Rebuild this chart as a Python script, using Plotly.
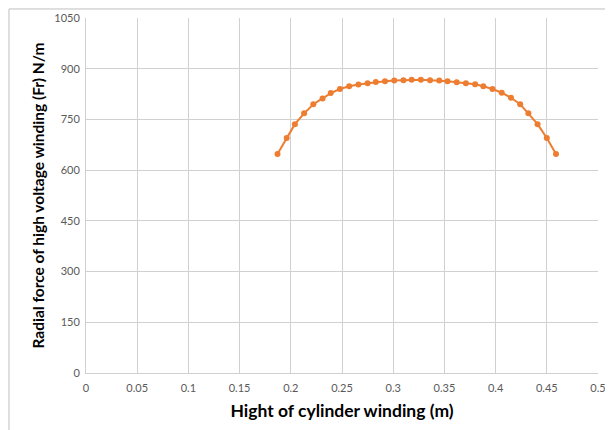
import plotly.graph_objects as go

height_m = [0.187, 0.196, 0.204, 0.213, 0.222, 0.231, 0.239, 0.248, 0.257, 0.266,
            0.275, 0.283, 0.292, 0.301, 0.310, 0.318, 0.327, 0.336, 0.345, 0.353,
            0.362, 0.371, 0.380, 0.388, 0.397, 0.406, 0.415, 0.424, 0.432, 0.441,
            0.450, 0.459]
radial_force = [648, 695, 736, 768, 795, 812, 828, 840, 848, 853,
                857, 861, 863, 865, 866, 867, 867, 866, 865, 863,
                860, 857, 854, 848, 840, 829, 814, 795, 768, 736,
                695, 648]

x_ticks = [0, 0.05, 0.1, 0.15, 0.2, 0.25, 0.3, 0.35, 0.4, 0.45, 0.5]
x_tick_labels = ["0", "0.05", "0.1", "0.15", "0.2", "0.25", "0.3", "0.35", "0.4", "0.45", "0.5"]
y_ticks = [0, 150, 300, 450, 600, 750, 900, 1050]
y_tick_labels = ["0", "150", "300", "450", "600", "750", "900", "1050"]

fig = go.Figure()
fig.add_trace(go.Scatter(
    x=height_m, y=radial_force, mode="lines+markers",
    line=dict(color="#ED7D31", width=2),
    marker=dict(color="#ED7D31", size=6),
    showlegend=False,
))

font_family = "Lato, 'Open Sans', sans-serif"
fig.update_layout(
    width=605, height=422,
    margin=dict(l=78, r=15, t=10, b=57),
    paper_bgcolor="white", plot_bgcolor="white",
    font=dict(family=font_family, size=11, color="#595959"),
    xaxis=dict(
        range=[0, 0.5], tickvals=x_ticks, ticktext=x_tick_labels,
        showgrid=True, gridcolor="#d0d0d0", gridwidth=1,
        showline=True, linecolor="#d0d0d0", linewidth=1,
        zeroline=False, ticks="outside", ticklen=5, tickcolor="rgba(0,0,0,0)",
        automargin=False,
        tickfont=dict(size=11, color="#595959"),
        title=dict(text="<b>Hight of cylinder winding (m)</b>",
                   font=dict(size=17.5, color="#000000"), standoff=11),
    ),
    yaxis=dict(
        range=[0, 1050], tickvals=y_ticks, ticktext=y_tick_labels,
        showgrid=True, gridcolor="#d0d0d0", gridwidth=1,
        showline=True, linecolor="#d0d0d0", linewidth=1,
        zeroline=False, ticks="outside", ticklen=3, tickcolor="rgba(0,0,0,0)",
        automargin=False,
        tickfont=dict(size=11, color="#595959"),
        title=dict(text="<b>Radial force of high voltage winding (Fr) N/m</b>",
                   font=dict(size=15.5, color="#000000"), standoff=5),
    ),
    shapes=[
        dict(type="line", xref="paper", yref="paper",
             x0=-0.1504, x1=1.05, y0=1.0254, y1=1.0254,
             line=dict(color="#bfbfbf", width=1)),
        dict(type="line", xref="paper", yref="paper",
             x0=-0.1504, x1=-0.1504, y0=1.0254, y1=-0.2,
             line=dict(color="#bfbfbf", width=1)),
    ],
)

fig.write_html("out.html")
